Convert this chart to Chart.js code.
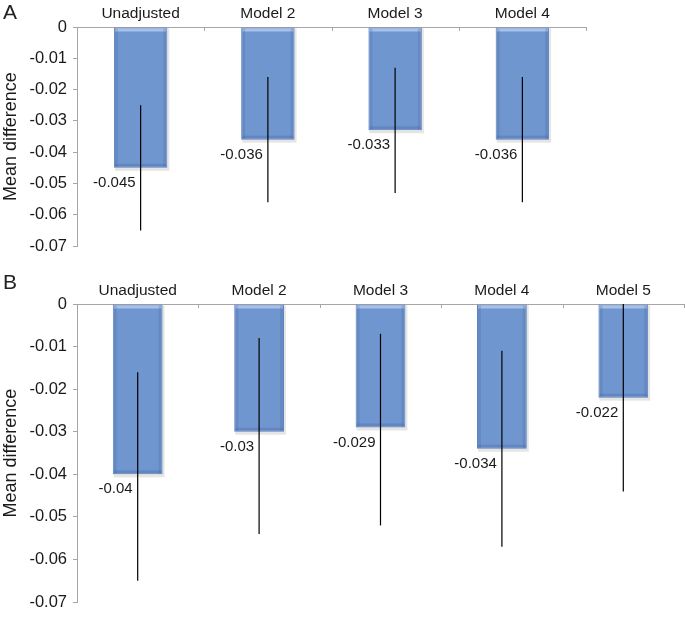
<!DOCTYPE html>
<html>
<head>
<meta charset="utf-8">
<script src="https://cdn.jsdelivr.net/npm/chart.js@4"></script>
<style>
  html, body { margin: 0; padding: 0; background: #fff; }
  #wrap { position: relative; width: 685px; height: 618px; }
  .panel { position: absolute; left: 0; width: 685px; }
  .letter { position: absolute; left: 3px; font: 21px "Liberation Sans", Arial, sans-serif; color: #222; }
</style>
</head>
<body>
<div id="wrap">
  <div class="panel" style="top:0;height:262px"><canvas id="chartA"></canvas></div>
  <div class="panel" style="top:270px;height:348px"><canvas id="chartB"></canvas></div>
  <div class="letter" style="top:0">A</div>
  <div class="letter" style="top:270px">B</div>
</div>
<script>
// Panel A
const categoriesA = ['Unadjusted', 'Model 2', 'Model 3', 'Model 4'];
const meanA = [-0.045, -0.036, -0.033, -0.036];
const ciLowA = [-0.065, -0.056, -0.053, -0.056];
const ciHighA = [-0.025, -0.016, -0.013, -0.016];

// Panel B
const categoriesB = ['Unadjusted', 'Model 2', 'Model 3', 'Model 4', 'Model 5'];
const meanB = [-0.04, -0.03, -0.029, -0.034, -0.022];
const ciLowB = [-0.065, -0.054, -0.052, -0.057, -0.044];
const ciHighB = [-0.016, -0.008, -0.007, -0.011, 0];

// y axis ticks (shared)
const yTickValues = [0, -0.01, -0.02, -0.03, -0.04, -0.05, -0.06, -0.07];
const yTickLabels = ['0', '-0.01', '-0.02', '-0.03', '-0.04', '-0.05', '-0.06', '-0.07'];

const FONT = '"Liberation Sans", Arial, sans-serif';
const AXIS_GREY = '#a6a6a6';

// bevel look, error bars, value labels and category separators
const decor = {
  id: 'decor',
  beforeDatasetsDraw(chart) {
    const ctx = chart.ctx;
    const meta = chart.getDatasetMeta(0);
    ctx.save();
    ctx.fillStyle = 'rgba(0,0,0,0.10)';
    meta.data.forEach(bar => {
      const l = bar.x - bar.width / 2;
      ctx.fillRect(l + 1, bar.base + 1, bar.width + 1, bar.y - bar.base + 2);
    });
    ctx.restore();
  },
  afterDatasetsDraw(chart) {
    const ctx = chart.ctx;
    const ds = chart.data.datasets[0];
    const meta = chart.getDatasetMeta(0);
    const yScale = chart.scales.y;
    const xScale = chart.scales.x;
    const area = chart.chartArea;

    ctx.save();
    meta.data.forEach((bar, i) => {
      const l = bar.x - bar.width / 2;
      const r = bar.x + bar.width / 2;
      const t = bar.base;
      const b = bar.y;
      // top highlight
      ctx.fillStyle = 'rgba(190,210,245,0.7)';
      ctx.fillRect(l + 1, t + 1, bar.width - 2, 3);
      // side shading
      ctx.fillStyle = 'rgba(60,95,160,0.22)';
      ctx.fillRect(l + 1, t + 1, 3, b - t - 2);
      ctx.fillRect(r - 4, t + 1, 3, b - t - 2);
      // bottom shading
      ctx.fillStyle = 'rgba(60,95,160,0.28)';
      ctx.fillRect(l + 1, b - 4, bar.width - 2, 3);

      // error bar
      const yLo = yScale.getPixelForValue(ds.ciLow[i]);
      const yHi = yScale.getPixelForValue(ds.ciHigh[i]);
      ctx.strokeStyle = '#000';
      ctx.lineWidth = 1.2;
      ctx.beginPath();
      ctx.moveTo(bar.x, yHi);
      ctx.lineTo(bar.x, yLo);
      ctx.stroke();

      // value label
      ctx.fillStyle = '#1a1a1a';
      ctx.font = '15px ' + FONT;
      ctx.textAlign = 'right';
      ctx.textBaseline = 'middle';
      ctx.fillText(String(ds.data[i]), bar.x - 5, b + 15);
    });

    // separator ticks on the category axis
    const n = chart.data.labels.length;
    const half = (xScale.getPixelForValue(1) - xScale.getPixelForValue(0)) / 2;
    ctx.strokeStyle = AXIS_GREY;
    ctx.lineWidth = 1;
    for (let i = 0; i < n; i++) {
      const px = Math.round(xScale.getPixelForValue(i) + half) + 0.5;
      ctx.beginPath();
      ctx.moveTo(px, area.top);
      ctx.lineTo(px, area.top + 4);
      ctx.stroke();
    }
    ctx.restore();
  }
};

function makeChart(id, cats, vals, lows, highs, pad, topHeight, barPct) {
  return new Chart(document.getElementById(id), {
    type: 'bar',
    data: {
      labels: cats,
      datasets: [{
        data: vals,
        ciLow: lows,
        ciHigh: highs,
        backgroundColor: '#7096cf',
        borderColor: '#5f80bc',
        borderWidth: 1,
        borderSkipped: false,
        barPercentage: barPct,
        categoryPercentage: 1
      }]
    },
    options: {
      responsive: true,
      maintainAspectRatio: false,
      animation: false,
      layout: { padding: pad },
      plugins: {
        legend: { display: false },
        tooltip: { enabled: false }
      },
      scales: {
        x: {
          position: 'top',
          offset: true,
          grid: { display: false, drawTicks: false },
          border: { display: true, color: AXIS_GREY },
          ticks: { color: '#1a1a1a', font: { family: FONT, size: 15.5 }, padding: 4, maxRotation: 0 },
          afterFit: s => { s.height = topHeight; }
        },
        y: {
          min: -0.07,
          max: 0,
          afterBuildTicks: s => { s.ticks = yTickValues.map(v => ({ value: v })); },
          grid: { drawOnChartArea: false, drawTicks: true, tickLength: 4, color: AXIS_GREY },
          border: { display: true, color: AXIS_GREY },
          ticks: {
            color: '#1a1a1a',
            font: { family: FONT, size: 16.5 },
            padding: 6,
            callback: v => yTickLabels[yTickValues.indexOf(v)]
          },
          title: {
            display: true,
            text: 'Mean difference',
            color: '#1a1a1a',
            font: { family: FONT, size: 18 },
            padding: { top: 0, bottom: 0 }
          },
          afterFit: s => { s.width = 77; }
        }
      }
    },
    plugins: [decor]
  });
}

makeChart('chartA', categoriesA, meanA, ciLowA, ciHighA,
  { top: 0, left: 0, right: 99, bottom: 11 }, 27, 0.42);
makeChart('chartB', categoriesB, meanB, ciLowB, ciHighB,
  { top: 0, left: 0, right: 1, bottom: 7 }, 34, 0.41);
</script>
</body>
</html>
